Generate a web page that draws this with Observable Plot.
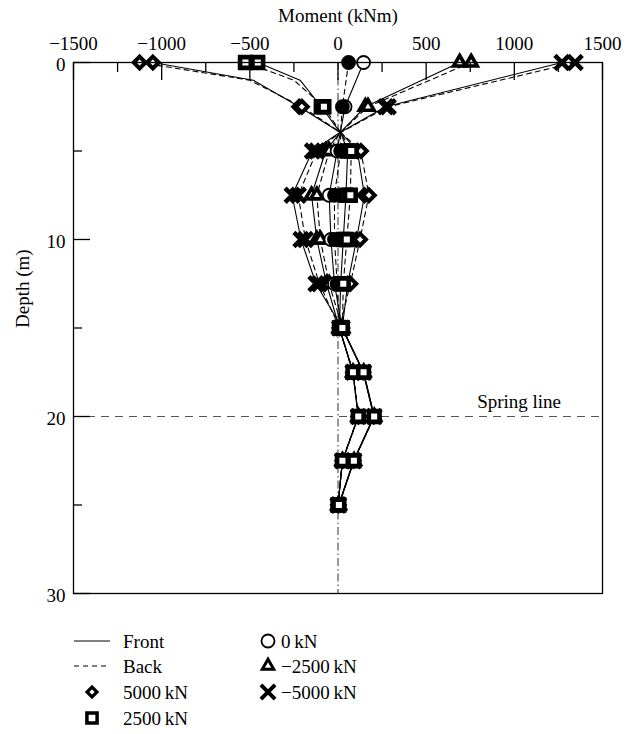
<!DOCTYPE html>
<html><head><meta charset="utf-8">
<script src="https://cdn.jsdelivr.net/npm/d3@7"></script>
<script src="https://cdn.jsdelivr.net/npm/@observablehq/plot@0.6"></script>
<style>
body{margin:0;background:#fff;font-family:"Liberation Serif",serif;}
#wrap{position:relative;width:635px;height:734px;}
#legend{position:absolute;left:0;top:620px;}
</style></head><body><div id="wrap"><div id="chart"></div><div id="legend"></div></div>
<script>
// Depths (m)
const depths = [0, 1, 2.5, 4, 5, 7.5, 10, 12.5, 15, 17.5, 20, 22.5, 25];
const markerDepths = [0, 2.5, 5, 7.5, 10, 12.5, 15, 17.5, 20, 22.5, 25];
const loads = ["5000 kN", "2500 kN", "0 kN", "−2500 kN", "−5000 kN"];
// Moment (kNm) per load case, Front / Back
const front5000 = [-1050, -480, -220, 20, 110, 150, 105, 55, 24, 143, 203, 88, 4];
const back5000  = [-1125, -500, -205, 22, 130, 175, 125, 70, 9, 86, 116, 26, 1];
const front2500 = [-455, -215, -95, 16, 55, 45, 30, 15, 8, 85, 115, 25, 0];
const back2500  = [-525, -250, -80, 18, 75, 70, 50, 30, 25, 145, 205, 90, 5];
const front0    = [145, null, 40, 12, -5, -50, -40, -20, 23, 144, 204, 89, 5];
const back0     = [60, null, 25, 14, 15, -20, -20, -5, 7, 84, 114, 24, 0];
const frontM2500 = [690, null, 155, 8, -70, -150, -120, -65, 8, 85, 115, 25, 1];
const backM2500  = [755, null, 170, 10, -50, -120, -100, -50, 25, 146, 206, 91, 6];
const frontM5000 = [1270, null, 270, 4, -145, -260, -210, -125, 24, 145, 205, 90, 4];
const backM5000  = [1345, null, 285, 6, -120, -225, -185, -105, 9, 85, 115, 25, 0];
const xMajor = [-1500, -1000, -500, 0, 500, 1000, 1500];
const xMinor = [-1250, -750, -250, 250, 750, 1250];
const yMajor = [0, 10, 20, 30];
const yMinor = [5, 15, 25];
const springDepth = 20;

const series = [
  {load: loads[0], side: "Front", v: front5000}, {load: loads[0], side: "Back", v: back5000},
  {load: loads[1], side: "Front", v: front2500}, {load: loads[1], side: "Back", v: back2500},
  {load: loads[2], side: "Front", v: front0}, {load: loads[2], side: "Back", v: back0},
  {load: loads[3], side: "Front", v: frontM2500}, {load: loads[3], side: "Back", v: backM2500},
  {load: loads[4], side: "Front", v: frontM5000}, {load: loads[4], side: "Back", v: backM5000}
];
const rows = series.flatMap(s => depths.map((d, i) => ({load: s.load, side: s.side, key: s.load + s.side, depth: d, m: s.v[i]})))
  .filter(r => r.m != null);
const pts = rows.filter(r => markerDepths.includes(r.depth));
const sel = (load, side) => pts.filter(r => r.load === load && (!side || r.side === side));
const fmt = d => d < 0 ? "−" + Math.abs(d) : String(d);

const font = "Liberation Serif";
const fs = 19;
const plot = Plot.plot({
  width: 635, height: 620,
  marginTop: 62, marginLeft: 73, marginRight: 33, marginBottom: 27,
  style: {fontFamily: font, fontSize: fs + "px", background: "white", color: "black"},
  x: {domain: [-1500, 1500], label: null},
  y: {domain: [0, 30], reverse: true, label: null},
  marks: [
    Plot.ruleX([0], {stroke: "#555", strokeWidth: 1.2, strokeDasharray: "8,3,1.5,3"}),
    Plot.ruleY([springDepth], {stroke: "#555", strokeWidth: 1.2, strokeDasharray: "8,6"}),
    Plot.text(["Spring line"], {x: 1265, y: springDepth, dy: -15, text: d => d, textAnchor: "end", fontSize: fs}),
    Plot.line(rows.filter(r => r.side === "Front"), {x: "m", y: "depth", z: "key", stroke: "black", strokeWidth: 1.1}),
    Plot.line(rows.filter(r => r.side === "Back"), {x: "m", y: "depth", z: "key", stroke: "black", strokeWidth: 1.1, strokeDasharray: "5,4"}),
    Plot.dot(sel(loads[0]), {x: "m", y: "depth", symbol: "diamond2", r: 5.3, stroke: "black", strokeWidth: 4, fill: "white"}),
    Plot.dot(sel(loads[3]), {x: "m", y: "depth", symbol: "triangle2", r: 5.8, stroke: "black", strokeWidth: 3.6, fill: "white"}),
    Plot.dot(sel(loads[4]), {x: "m", y: "depth", symbol: "times", r: 6.5, stroke: "black", strokeWidth: 4.5}),
    Plot.dot(sel(loads[2], "Front"), {x: "m", y: "depth", symbol: "circle", r: 6.5, stroke: "black", strokeWidth: 1.8, fill: "white"}),
    Plot.dot(sel(loads[2], "Back"), {x: "m", y: "depth", symbol: "circle", r: 6.5, stroke: "black", strokeWidth: 1.8, fill: "black"}),
    Plot.dot(sel(loads[1]), {x: "m", y: "depth", symbol: "square2", r: 6.8, stroke: "black", strokeWidth: 4.6, fill: "white"}),
    Plot.frame({stroke: "black", strokeWidth: 1.3}),
    Plot.axisX({anchor: "top", ticks: xMajor, tickSize: 0, tickPadding: 13, fontSize: fs, tickFormat: fmt, label: null}),
    Plot.axisX({anchor: "top", ticks: xMajor, tickSize: -17, tickFormat: () => "", label: null, strokeWidth: 1.3}),
    Plot.axisX({anchor: "top", ticks: xMinor, tickSize: -9, tickFormat: () => "", label: null, strokeWidth: 1.3}),
    Plot.axisY({anchor: "left", ticks: yMajor, tickSize: 0, tickPadding: 8, fontSize: fs, tickFormat: fmt, label: null, dy: 2}),
    Plot.axisY({anchor: "left", ticks: yMajor, tickSize: -17, tickFormat: () => "", label: null, strokeWidth: 1.3}),
    Plot.axisY({anchor: "left", ticks: yMinor, tickSize: -9, tickFormat: () => "", label: null, strokeWidth: 1.3}),
    Plot.text(["Moment (kNm)"], {frameAnchor: "top", dy: -54, text: d => d, fontSize: fs}),
    Plot.text(["Depth (m)"], {frameAnchor: "left", dx: -51, rotate: -90, text: d => d, fontSize: fs})
  ]
});
document.getElementById("chart").appendChild(plot);

// Legend
const lg = d3.select("#legend").append("svg").attr("width", 635).attr("height", 114)
  .style("font-family", font).style("font-size", fs + "px");
const rowsY = [21, 46, 72, 98];
const sym = (type, r) => d3.symbol(type, Math.PI * r * r)();
lg.append("line").attr("x1", 74).attr("x2", 110).attr("y1", rowsY[0]).attr("y2", rowsY[0]).attr("stroke", "black");
lg.append("line").attr("x1", 74).attr("x2", 110).attr("y1", rowsY[1]).attr("y2", rowsY[1]).attr("stroke", "black").attr("stroke-dasharray", "5,4");
const items = [
  {x: 92, y: rowsY[2], t: d3.symbolDiamond2, r: 4.5, sw: 3.2, fill: "white", label: "5000\u2009kN"},
  {x: 92, y: rowsY[3], t: d3.symbolSquare2, r: 6.5, sw: 3.5, fill: "white", label: "2500\u2009kN"},
  {x: 268, y: rowsY[0], t: d3.symbolCircle, r: 6.5, sw: 1.8, fill: "white", label: "0\u2009kN"},
  {x: 268, y: rowsY[1], t: d3.symbolTriangle2, r: 5.5, sw: 3, fill: "white", label: "−2500\u2009kN"},
  {x: 268, y: rowsY[2], t: d3.symbolTimes, r: 6.5, sw: 4, fill: "none", label: "−5000\u2009kN"}
];
for (const it of items) {
  lg.append("path").attr("d", sym(it.t, it.r)).attr("transform", `translate(${it.x},${it.y})`)
    .attr("stroke", "black").attr("stroke-width", it.sw).attr("fill", it.fill);
  lg.append("text").attr("x", it.x < 200 ? 123 : 281).attr("y", it.y).attr("dy", "0.35em").text(it.label);
}
lg.append("text").attr("x", 123).attr("y", rowsY[0]).attr("dy", "0.35em").text("Front");
lg.append("text").attr("x", 123).attr("y", rowsY[1]).attr("dy", "0.35em").text("Back");
</script></body></html>
